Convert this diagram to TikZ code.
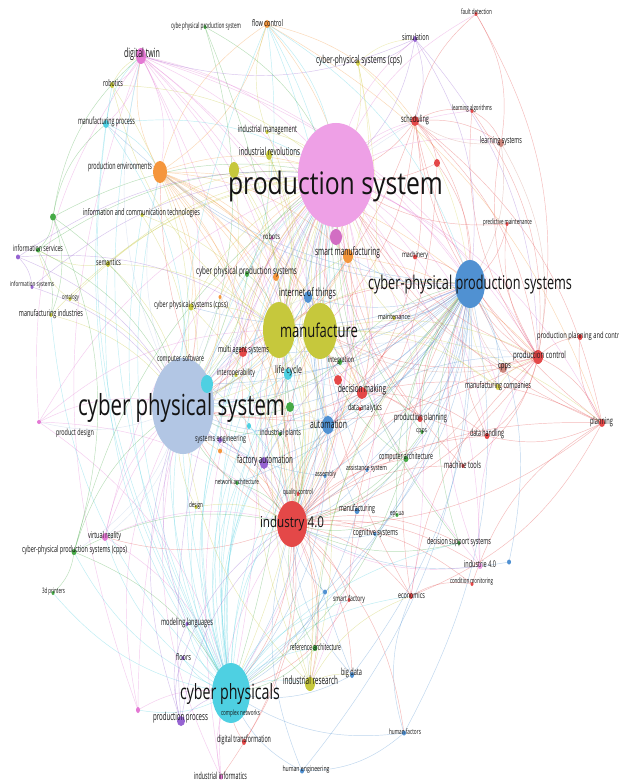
\documentclass[tikz,border=0pt]{standalone}
\usepackage{fontspec}
\usepackage{graphicx}
\usetikzlibrary{shapes.geometric}
\newfontfamily\vf{Open Sans}
\definecolor{cPkL}{RGB}{238,160,230}
\definecolor{cPkD}{RGB}{210,110,195}
\definecolor{cPk}{RGB}{228,120,212}
\definecolor{cLb}{RGB}{178,198,228}
\definecolor{cBl}{RGB}{80,145,210}
\definecolor{cYg}{RGB}{198,200,60}
\definecolor{cRd}{RGB}{228,72,72}
\definecolor{cCy}{RGB}{78,208,226}
\definecolor{cOr}{RGB}{245,150,60}
\definecolor{cGr}{RGB}{70,170,70}
\definecolor{cPu}{RGB}{150,100,210}
\definecolor{cBr}{RGB}{205,135,125}
\definecolor{cYl}{RGB}{215,210,80}
\pgfdeclarelayer{bg}
\pgfdeclarelayer{links}
\pgfsetlayers{bg,links,main}
\newcommand\fitw[3]{{\pgfmathsetmacro\fitfs{#2<12 ? #2*1.15 : #2}\vf\fontsize{\fitfs}{\fitfs}\selectfont\setbox0\hbox{#3}\edef\fitnat{\the\wd0}\pgfmathsetmacro\fitsc{#1/\fitnat}\scalebox{\fitsc}[1]{\box0}}}
\tikzset{
  dotst/.style={ellipse, inner sep=0pt, draw=none},
  lbl/.style={inner sep=0pt, text=black!92},
  link/.style={line width=0.45pt, draw opacity=0.38},
}
\newcommand\dn[6]{\node[dotst, fill=#6, minimum width=#4pt*2, minimum height=#5pt*2] (#1) at (#2,#3) {};}
\newcommand\lab[6]{\node[lbl] (l-#1) at (#2,#3) {\fitw{#4}{#5}{#6}};}
\newcommand\links[3]{\foreach \tg in {#3}{\draw[link, draw=#2] (#1.center) to[bend left=20] (\tg.center);}}
\begin{document}
\begin{tikzpicture}[x=1pt,y=-1pt]
\begin{pgfonlayer}{bg}
\fill[white] (0,0) rectangle (618,783);
\end{pgfonlayer}
\useasboundingbox (0,0) rectangle (618,783);
% ---------------- circles
\dn{ps}{336}{175}{38}{52}{cPkL}
\dn{ps2}{336}{237}{6}{8}{cPkD}
\dn{cpsys}{183}{406}{31}{48}{cLb}
\dn{cpps}{470}{284}{15}{24}{cBl}
\dn{mf1}{279}{330}{16}{28}{cYg}
\dn{mf2}{320}{331}{17}{28}{cYg}
\dn{i40}{292}{524}{15}{23}{cRd}
\dn{cphy}{231}{693}{19}{30}{cCy}
\dn{auto}{328}{425}{6}{9}{cBl}
\dn{iot}{308}{297}{4}{6}{cBl}
\dn{pe}{160}{172}{7}{11}{cOr}
\dn{sm}{348}{256}{5}{7}{cOr}
\dn{dt}{141}{56}{5}{8}{cPk}
\dn{ir}{269}{155}{3}{5}{cYg}
\dn{yg2}{234}{170}{5}{8}{cYg}
\dn{fc}{267}{24}{3}{4}{cOr}
\dn{cpsn}{205}{27}{1.5}{2}{cGr}
\dn{rob}{112}{85}{2}{3}{cYg}
\dn{mp}{106}{124}{3}{4}{cCy}
\dn{im}{267}{132}{1.5}{2}{cYg}
\dn{fd}{476}{14}{1.5}{2}{cRd}
\dn{sim}{415}{39}{2}{3}{cPu}
\dn{cpscps}{358}{63}{2}{3}{cYl}
\dn{la}{472}{111}{1.5}{2}{cRd}
\dn{sch}{415}{121}{4}{5}{cRd}
\dn{ls}{501}{143}{3}{4}{cBr}
\dn{rd1}{437}{163}{3}{4}{cRd}
\dn{gd1}{53}{217}{3}{3.5}{cGr}
\dn{ict}{142}{215}{1.5}{2}{cYg}
\dn{rbts}{272}{238}{1.5}{2}{cPk}
\dn{is}{38}{250}{2}{2.5}{cGr}
\dn{pd1}{18}{257}{2}{2.5}{cPu}
\dn{sem}{108}{264}{2}{3}{cYg}
\dn{cpps2}{247}{274}{2}{3}{cGr}
\dn{or1}{276}{277}{3}{4}{cOr}
\dn{infs}{32}{287}{1.5}{2}{cPu}
\dn{ont}{70}{299}{1.5}{2}{cYg}
\dn{cpss}{191}{307}{2.5}{3.5}{cYg}
\dn{or2}{220}{297}{1.5}{2}{cOr}
\dn{mi}{51}{315}{1.5}{2}{cYg}
\dn{mas}{243}{352}{4}{5}{cRd}
\dn{cy1}{207}{384}{6}{9}{cCy}
\dn{iop}{236}{375}{1.5}{2}{cYg}
\dn{lc}{288}{374}{4}{6}{cCy}
\dn{intg}{340}{362}{2}{3}{cGr}
\dn{rd2}{338}{380}{4}{5}{cRd}
\dn{dm}{362}{393}{5}{6}{cRd}
\dn{da}{360}{409}{1.5}{2}{cRd}
\dn{gr2}{290}{407}{4}{5}{cGr}
\dn{cy2}{249}{426}{2}{3}{cCy}
\dn{ip}{280}{434}{1.5}{2}{cGr}
\dn{se}{220}{440}{2}{3}{cPu}
\dn{or3}{220}{451}{2}{2.5}{cOr}
\dn{fa}{264}{463}{4}{6}{cPu}
\dn{na}{237}{483}{1.5}{2}{cGr}
\dn{asm}{325}{476}{1.5}{2}{cBl}
\dn{as}{367}{470}{1.5}{2}{cBl}
\dn{ca}{406}{459}{2.5}{3}{cGr}
\dn{qc}{298}{494}{1.5}{2}{cRd}
\dn{des}{196}{507}{1.5}{2}{cYg}
\dn{manu}{357}{511}{2.5}{3}{cBl}
\dn{epc}{397}{515}{1.5}{2}{cGr}
\dn{cog}{375}{534}{1.5}{2}{cBl}
\dn{pp}{420}{419}{2.5}{3}{cRd}
\dn{cpps3}{422}{432}{1.5}{2}{cGr}
\dn{dh}{487}{436}{2.5}{3}{cRd}
\dn{mt}{463}{466}{1.5}{2}{cRd}
\dn{pl}{602}{423}{3}{4}{cRd}
\dn{mc}{498}{387}{2.5}{3}{cYl}
\dn{dss}{459}{543}{1.5}{2}{cGr}
\dn{ie}{480}{566}{2.5}{3}{cPkL}
\dn{bd1}{509}{562}{2}{2.5}{cBl}
\dn{cm}{472}{584}{1.5}{2}{cRd}
\dn{eco}{411}{596}{2}{3}{cRd}
\dn{sf}{349}{600}{1.5}{2}{cRd}
\dn{bd2}{325}{592}{2}{2.5}{cBl}
\dn{ra}{315}{648}{2.5}{3}{cGr}
\dn{bdata}{352}{675}{2}{3}{cBl}
\dn{ires}{310}{684}{5}{7}{cYg}
\dn{hf}{404}{733}{2}{2.5}{cBl}
\dn{he}{302}{771}{2}{2.5}{cBl}
\dn{td}{53}{593}{1.5}{2}{cGr}
\dn{ml}{187}{624}{1.5}{2}{cPu}
\dn{fl}{183}{658}{1.5}{2}{cPu}
\dn{cn}{240}{714}{1.5}{2}{cCy}
\dn{prp}{181}{721}{4}{5}{cPu}
\dn{pk1}{138}{710}{2}{3}{cPk}
\dn{dtr}{244}{742}{2}{3}{cRd}
\dn{ii}{221}{777}{2}{2.5}{cPk}
\dn{pdes}{39}{422}{2}{2}{cPk}
\dn{vr}{105}{537}{3}{4}{cPk}
\dn{cppsc}{74}{552}{2.5}{3}{cGr}
\dn{pm}{507}{224}{1.5}{2}{cRd}
\dn{mach}{415}{257}{2}{2.5}{cRd}
\dn{mnt}{394}{318}{1.5}{2}{cYg}
\dn{ppc}{580}{337}{2.5}{3}{cRd}
\dn{pc}{538}{357}{5}{7}{cRd}
\dn{cpps4}{503}{368}{4}{5}{cBr}
% ---------------- links
\begin{pgfonlayer}{links}
\links{dt}{cPk}{ps,mf2,cpsys,i40,sm,pe,cpps,auto,mp,rob,lc,dm,pc,cphy}
\links{ps}{cPk}{cpsys,i40,mf1,cpps,auto,sch,ls,fd,la,pp,dh,pl,pc,mc,dm,eco,cphy,ires,ie,sim}
\links{pdes}{cPk}{cpsys,ps,mf1,cphy,i40,dt}
\links{vr}{cPk}{ps,cpsys,cphy,i40,mf1}
\links{pk1}{cPk}{cphy,ps,cpsys,dt}
\links{ii}{cPk}{cphy,i40,cpsys,ps}
\links{ie}{cPk}{i40,cpps,ps,pc}
\links{rbts}{cPk}{ps,mf1,cpsys}
\links{i40}{cRd}{ps,cpsys,cpps,mf1,mf2,auto,cphy,dm,pc,pl,dh,eco,sf,cm,ie,dss,ires,fa,mas,pe,vr,ca,mt,manu,cog,qc,ra,bdata,hf,dtr,ii}
\links{pc}{cRd}{cpps,ps,pl,ppc,dh,sch,mf2,i40,cpsys,ls,la,pm,cpps4,mt}
\links{sch}{cRd}{ps,cpps,fd,la,ls,pc,pl,mf2,cpsys,rd1,dm}
\links{dm}{cRd}{ps,cpps,mf2,cpsys,i40,auto,pp,pl,dh}
\links{pl}{cRd}{ppc,cpps,ps,dh,sch,i40,eco}
\links{fd}{cRd}{ls,pc}
\links{la}{cRd}{ls,pc}
\links{rd1}{cRd}{cpps,ps,i40}
\links{eco}{cRd}{cm,cpps,pc,ps}
\links{dh}{cRd}{cpps,mf2}
\links{mas}{cRd}{ps,cpsys,cpps}
\links{pm}{cRd}{cpps,ps}
\links{mach}{cRd}{cpps,ps}
\links{dtr}{cRd}{cphy}
\links{sf}{cRd}{cpps,cphy}
\links{pp}{cRd}{cpps,ps}
\links{mt}{cRd}{cpps,ps}
\links{qc}{cRd}{ps}
\links{rd2}{cRd}{ps,cpps,i40}
\links{cm}{cRd}{pl}
\links{cpps}{cBl}{cpsys,mf1,mf2,i40,auto,iot,dm,sm,pe,mp,cpss,mas,lc,fa,se,cy1,ip,na,ca,manu,cog,hf,bdata,bd1,bd2,cphy,pp,mc,mnt,he,gr2,as,asm}
\links{auto}{cBl}{ps,cpsys,i40,cphy,mf2,dm,pc}
\links{iot}{cBl}{ps,cpsys,i40,cphy,mf2}
\links{hf}{cBl}{he,eco,cphy}
\links{he}{cBl}{cphy,i40}
\links{bdata}{cBl}{i40,cphy,ps}
\links{bd1}{cBl}{i40}
\links{bd2}{cBl}{i40,cphy}
\links{manu}{cBl}{cphy,ps}
\links{cog}{cBl}{i40}
\links{asm}{cBl}{i40,cpsys}
\links{as}{cBl}{i40,ps}
\links{cphy}{cCy}{ps,cpsys,mf1,mf2,auto,iot,dm,pe,dt,mp,sm,fc,cpss,mas,lc,fa,se,ml,fl,ip,na,des,ires,ra,sf,bd2,eco,cy1,pk1,dss,rob,ict,sem,mi,iop,gr2,cy2,qc,vr,cppsc,td}
\links{mp}{cCy}{ps,cpsys,dt,pe}
\links{lc}{cCy}{ps,cpsys,i40}
\links{cy1}{cCy}{ps,i40,mf1}
\links{fc}{cCy}{ps,cpsys,cpps,mf2,i40}
\links{cy2}{cCy}{ps,i40}
\links{pe}{cOr}{ps,mf1,mf2,cpsys,i40,cpps,sm,auto,dt,fc,iot,mas,lc,dm,ires,or1,cpss}
\links{sm}{cOr}{cpsys,i40,mf1,dm,pc}
\links{fc}{cOr}{pe,sm,sch,pl}
\links{or1}{cOr}{ps,cpsys,i40}
\links{or2}{cOr}{ps,cpsys,i40}
\links{or3}{cOr}{cpsys,i40}
\links{mf1}{cYg}{ps,cpsys,cpps,i40,auto,dm,ires,sm,rob}
\links{mf2}{cYg}{ps,pc,cpsys,pl,mc}
\links{ires}{cYg}{cpsys,ps,mf1,cpps,ra,bdata,eco}
\links{rob}{cYg}{ps,dt,cpsys}
\links{ir}{cYg}{ps,mf1,cpsys,cphy,i40}
\links{yg2}{cYg}{ps,cpsys,mf1,i40}
\links{im}{cYg}{ps,mf1,fc}
\links{cpscps}{cYl}{ps,mf2,sim,cpps,i40}
\links{cpss}{cYg}{ps,cpsys,mf1,i40}
\links{sem}{cYg}{ps,is,cpsys,mf1}
\links{ict}{cYg}{ps,mf1,cpsys}
\links{ont}{cYg}{is,cpsys,ps}
\links{mi}{cYg}{ps,cpsys}
\links{iop}{cYg}{cpsys,ps,i40}
\links{des}{cYg}{cpsys,i40}
\links{mnt}{cYg}{ps}
\links{mc}{cYl}{pc,ps,cpps}
\links{gd1}{cGr}{is,mp,ps,cpsys,cppsc,dt,mi}
\links{is}{cGr}{ps,cpsys,mi}
\links{cpsn}{cGr}{ps,cpsys,cphy}
\links{cppsc}{cGr}{cpsys,i40,cphy,td,ps}
\links{cpps2}{cGr}{ps,cpsys,mf1}
\links{intg}{cGr}{ps,cpps,cpsys}
\links{gr2}{cGr}{ps,cpsys,i40}
\links{ip}{cGr}{i40,cpsys}
\links{na}{cGr}{i40,cpsys}
\links{ca}{cGr}{i40,cpps,cphy,ps,mf2}
\links{epc}{cGr}{i40,cpps}
\links{ra}{cGr}{i40,cphy,cpps}
\links{dss}{cGr}{i40,cpps,ps}
\links{cpps3}{cGr}{ps,cpps,i40}
\links{sim}{cPu}{ps,cpscps,cpps,pc,dt,sch}
\links{prp}{cPu}{cphy,ml,fl,cpsys,i40,ps}
\links{fa}{cPu}{ps,cpsys,cpps,i40,mf2}
\links{se}{cPu}{cpsys,i40,ps}
\links{pd1}{cPu}{ps,cpsys,infs,mf1}
\links{infs}{cPu}{ps,cpsys}
\links{ml}{cPu}{cpsys}
\links{fl}{cPu}{i40}
\links{cpsys}{cLb}{ps,mf1,mf2,i40,auto,pe,dt,iot,dm,pc,sch,ires,pdes,vr,cppsc}
\links{ls}{cBr}{cpps,pc,sch}
\links{cpps4}{cBr}{ps,cpps,pc,i40,mf2}
\end{pgfonlayer}
% ---------------- labels
\lab{ps}{335.5}{186}{215}{31}{production system}
\lab{cpsys}{181.5}{408}{207}{29}{cyber physical system}
\lab{cpps}{470}{285}{204}{19}{cyber-physical production systems}
\lab{mf}{319}{330}{78}{19}{manufacture}
\lab{cphy}{230}{694}{100}{21}{cyber physicals}
\lab{i40}{292}{524}{64}{15}{industry 4.0}
\lab{auto}{328.5}{424}{37}{10}{automation}
\lab{cpsn}{206}{26}{70}{7}{cybe physical production system}
\lab{fc}{267.5}{23}{31}{8}{flow control}
\lab{dt}{142}{54}{36}{11}{digital twin}
\lab{rob}{113}{83}{20}{8}{robotics}
\lab{mp}{106.5}{122}{57}{8.5}{manufacturing process}
\lab{im}{267.5}{130}{59}{8.5}{industrial management}
\lab{ir}{269.5}{151}{61}{9.5}{industrial revolutions}
\lab{pe}{120}{167}{64}{8.5}{production environments}
\lab{fd}{476.5}{12}{31}{6.5}{fault detection}
\lab{sim}{415.5}{37}{27}{8}{simulation}
\lab{cpscps}{359}{61}{86}{9.5}{cyber-physical systems (cps)}
\lab{la}{472}{109}{40}{6.5}{learning algorithms}
\lab{sch}{415}{120}{28}{8.5}{scheduling}
\lab{ls}{501}{141}{42}{8}{learning systems}
\lab{ict}{141.5}{213}{117}{8}{information and communication technologies}
\lab{rbts}{271.5}{236}{17}{7}{robots}
\lab{is}{38}{248}{50}{7.5}{information services}
\lab{sem}{108.5}{262}{25}{7.5}{semantics}
\lab{cpps2}{246.5}{272}{101}{9}{cyber physical production systems}
\lab{infs}{32}{285}{44}{6}{information systems}
\lab{ont}{70.5}{298}{17}{6}{ontology}
\lab{mi}{51}{314}{64}{8}{manufacturing industries}
\lab{cpss}{191}{305}{74}{7.5}{cyber physical systems (cpss)}
\lab{iot}{307.5}{293}{57}{10}{internet of things}
\lab{sm}{347.5}{252}{65}{10}{smart manufacturing}
\lab{mach}{415}{255}{26}{7}{machinery}
\lab{pm}{507.5}{223}{49}{6.5}{predictive maintenance}
\lab{mnt}{394}{317}{32}{6.5}{maintenance}
\node[lbl, anchor=west] (l-ppc) at (537,336) {\fitw{87}{7.5}{production planning and control}};
\lab{pc}{539.5}{356}{53}{8.5}{production control}
\lab{cpps4}{504.5}{367}{13}{8}{cpps}
\lab{mc}{498}{386}{66}{8}{manufacturing companies}
\lab{mas}{243.5}{350}{51}{8}{multi agent systems}
\lab{cs}{180.5}{359}{47}{7.5}{computer software}
\lab{iop}{236}{373}{38}{7.5}{interoperability}
\lab{lc}{288.5}{371}{27}{9}{life cycle}
\lab{intg}{341}{361}{26}{7}{integration}
\lab{dm}{362}{390}{48}{9.5}{decision making}
\lab{da}{365}{408}{34}{7.5}{data analytics}
\lab{ip}{280.5}{433}{41}{7.5}{industrial plants}
\lab{se}{220.5}{439}{51}{7.5}{systems engineering}
\lab{fa}{265}{461}{56}{9.5}{factory automation}
\lab{na}{237}{482}{44}{6.5}{network architecture}
\lab{asm}{325.5}{475}{21}{6.5}{assembly}
\lab{as}{366.5}{469}{41}{6.5}{assistance system}
\lab{ca}{406}{457}{54}{8}{computer architecture}
\lab{qc}{298}{493}{30}{6.5}{quality control}
\lab{des}{196}{506}{14}{6.5}{design}
\lab{manu}{357}{509}{36}{8}{manufacturing}
\lab{epc}{397}{514}{14}{6.5}{epc ua}
\lab{cog}{375.5}{533}{45}{8}{cognitive systems}
\lab{pp}{420.5}{418}{53}{8.5}{production planning}
\lab{cpps3}{421.5}{431}{11}{6}{cpps}
\lab{dh}{487}{434}{34}{8.5}{data handling}
\lab{mt}{462.5}{465}{37}{8.5}{machine tools}
\lab{pl}{601.5}{422}{23}{8.5}{planning}
\lab{dss}{459}{542}{64}{8}{decision support systems}
\lab{ie}{480}{564}{32}{8}{industrie 4.0}
\lab{cm}{471.5}{582}{43}{6.5}{condition monitoring}
\lab{eco}{411.5}{595}{27}{7.5}{economics}
\lab{sf}{349}{599}{32}{7}{smart factory}
\lab{ra}{315.5}{647}{51}{8}{reference architecture}
\lab{bdata}{351.5}{673}{21}{8.5}{big data}
\lab{ires}{310.5}{680}{55}{10}{industrial research}
\lab{hf}{405}{732}{32}{6.5}{human factors}
\lab{he}{306}{770}{47}{6.5}{human engineering}
\lab{td}{53.5}{592}{23}{6.5}{3d printers}
\lab{ml}{187}{623}{52}{8.5}{modeling languages}
\lab{fl}{183.5}{657}{15}{8}{floors}
\lab{cn}{240.5}{714}{39}{6.5}{complex networks}
\lab{prp}{180.5}{718}{55}{9.5}{production process}
\lab{dtr}{244}{740}{54}{8.5}{digital transformation}
\lab{ii}{220.5}{776}{53}{8.5}{industrial informatics}
\lab{pdes}{75}{433}{38}{7.5}{product design}
\lab{vr}{104.5}{536}{33}{8}{virtual reality}
\lab{cppsc}{74.5}{550}{105}{8}{cyber-physical production systems (cpps)}
\end{tikzpicture}
\end{document}
